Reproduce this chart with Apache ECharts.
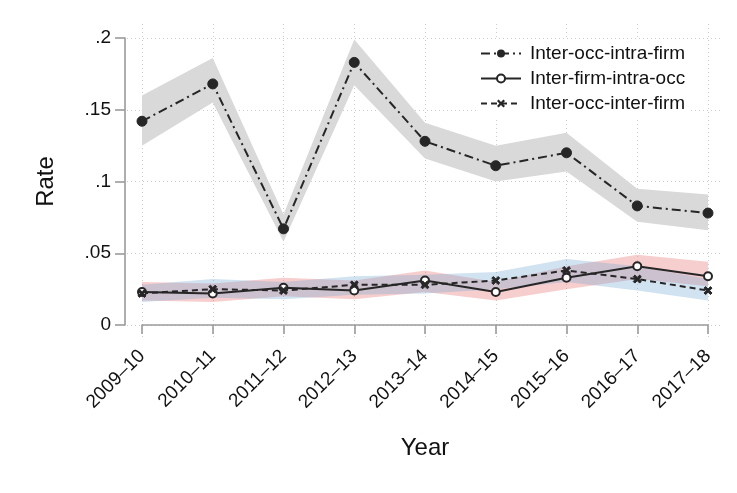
<!DOCTYPE html>
<html>
<head>
<meta charset="utf-8">
<script src="https://cdn.jsdelivr.net/npm/echarts@6/dist/echarts.min.js"></script>
<style>
html,body{margin:0;padding:0;background:#fff;}
#chart{width:737px;height:493px;}
</style>
</head>
<body>
<div id="chart"></div>
<script>
// ---- data ----
const categories = ['2009–10','2010–11','2011–12','2012–13','2013–14','2014–15','2015–16','2016–17','2017–18'];
const yTickValues = [0, 0.05, 0.1, 0.15, 0.2];
const yTickLabels = ['0', '.05', '.1', '.15', '.2'];

const seriesNames = ['Inter-occ-intra-firm', 'Inter-firm-intra-occ', 'Inter-occ-inter-firm'];

const occIntraFirm      = [0.142, 0.168, 0.067, 0.183, 0.128, 0.111, 0.120, 0.083, 0.078];
const occIntraFirmLow   = [0.125, 0.155, 0.058, 0.167, 0.116, 0.100, 0.107, 0.072, 0.066];
const occIntraFirmHigh  = [0.160, 0.186, 0.077, 0.199, 0.141, 0.125, 0.134, 0.095, 0.091];

const firmIntraOcc      = [0.023, 0.022, 0.026, 0.024, 0.031, 0.023, 0.033, 0.041, 0.034];
const firmIntraOccLow   = [0.017, 0.016, 0.020, 0.018, 0.023, 0.017, 0.025, 0.032, 0.027];
const firmIntraOccHigh  = [0.030, 0.029, 0.033, 0.031, 0.038, 0.030, 0.041, 0.049, 0.044];

const occInterFirm      = [0.022, 0.025, 0.024, 0.028, 0.028, 0.031, 0.038, 0.032, 0.024];
const occInterFirmLow   = [0.016, 0.019, 0.018, 0.021, 0.022, 0.025, 0.030, 0.024, 0.017];
const occInterFirmHigh  = [0.028, 0.032, 0.030, 0.034, 0.035, 0.037, 0.046, 0.041, 0.032];

// ---- chart ----
const FONT = 'Liberation Sans, Arial, Helvetica, sans-serif';
const INK = '#262626';
const TXT = '#111111';
const AXIS = '#9a9a9a';
const GRIDC = '#cccccc';

function diff(hi, lo){ return hi.map((v,i)=> +(v - lo[i]).toFixed(4)); }

function band(name, lo, hi, color, z){
  return [
    {name: name+'_lo', type:'line', xAxisIndex:0, yAxisIndex:0, stack:name, data:lo,
     symbol:'none', lineStyle:{opacity:0}, silent:true, z:z},
    {name: name+'_hi', type:'line', xAxisIndex:0, yAxisIndex:0, stack:name, data:diff(hi, lo),
     symbol:'none', lineStyle:{opacity:0}, areaStyle:{color:color, opacity:1}, silent:true, z:z}
  ];
}

const xSymbol = 'path://M2,0 L5,3 L8,0 L10,2 L7,5 L10,8 L8,10 L5,7 L2,10 L0,8 L3,5 L0,2 Z';

const chart = echarts.init(document.getElementById('chart'), null, {renderer:'canvas'});

const option = {
  backgroundColor:'#ffffff',
  animation:false,
  textStyle:{fontFamily:FONT},
  grid:[
    {left:142, width:566, top:38, height:287},           // data grid
    {left:127, right:14, top:38, height:287},             // horizontal gridlines
    {left:142, width:566, top:24, height:315}             // vertical gridlines
  ],
  xAxis:[
    {type:'category', gridIndex:0, data:categories, boundaryGap:false, offset:17,
     axisLine:{show:true, lineStyle:{color:AXIS, width:1.6}},
     axisTick:{show:true, length:9, lineStyle:{color:AXIS, width:1.6}, alignWithLabel:true},
     axisLabel:{rotate:45, margin:11, color:TXT, fontSize:19, fontFamily:FONT, interval:0},
     splitLine:{show:false},
     name:'Year', nameLocation:'middle', nameGap:94,
     nameTextStyle:{fontSize:24, color:TXT, fontFamily:FONT}},
    {type:'value', gridIndex:1, min:0, max:1, show:false},
    {type:'category', gridIndex:2, data:categories, boundaryGap:false,
     axisLine:{show:false}, axisTick:{show:false}, axisLabel:{show:false},
     splitLine:{show:true, lineStyle:{color:GRIDC, type:[1,3], width:1}}}
  ],
  yAxis:[
    {type:'value', gridIndex:0, min:0, max:0.2, interval:0.05, offset:17,
     axisLine:{show:true, lineStyle:{color:AXIS, width:1.6}},
     axisTick:{show:true, length:10, lineStyle:{color:AXIS, width:1.6}},
     axisLabel:{margin:14, color:TXT, fontSize:19, fontFamily:FONT,
       formatter:function(v){ const i = yTickValues.findIndex(t=>Math.abs(t-v)<1e-9); return i>=0 ? yTickLabels[i] : ''; }},
     splitLine:{show:false},
     name:'Rate', nameLocation:'middle', nameGap:67, nameRotate:90,
     nameTextStyle:{fontSize:24, color:TXT, fontFamily:FONT}},
    {type:'value', gridIndex:1, min:0, max:0.2, interval:0.05,
     axisLine:{show:false}, axisTick:{show:false}, axisLabel:{show:false},
     splitLine:{show:true, lineStyle:{color:GRIDC, type:[1,3], width:1}}},
    {type:'value', gridIndex:2, min:0, max:1, show:false, splitLine:{show:false}}
  ],
  legend:{
    data:seriesNames, orient:'vertical', left:476, top:40,
    itemWidth:40, itemHeight:10, itemGap:6,
    backgroundColor:'#ffffff', padding:[4,4,4,4],
    textStyle:{fontSize:19, color:TXT, fontFamily:FONT, padding:[0,0,0,4]}
  },
  series:[
    ...band('bandA', occIntraFirmLow, occIntraFirmHigh, '#d9d9d9', 2),
    ...band('bandB', firmIntraOccLow, firmIntraOccHigh, 'rgba(232,120,120,0.36)', 2),
    ...band('bandC', occInterFirmLow, occInterFirmHigh, 'rgba(120,170,210,0.34)', 2),
    {name:seriesNames[0], type:'line', xAxisIndex:0, yAxisIndex:0, data:occIntraFirm, z:5,
     symbol:'circle', symbolSize:10,
     lineStyle:{color:INK, width:2, type:[9,4,2,4]},
     itemStyle:{color:INK, borderColor:INK}},
    {name:seriesNames[1], type:'line', xAxisIndex:0, yAxisIndex:0, data:firmIntraOcc, z:5,
     symbol:'circle', symbolSize:8,
     lineStyle:{color:INK, width:2, type:'solid'},
     itemStyle:{color:'#ffffff', borderColor:INK, borderWidth:2}},
    {name:seriesNames[2], type:'line', xAxisIndex:0, yAxisIndex:0, data:occInterFirm, z:5,
     symbol:xSymbol, symbolSize:8,
     lineStyle:{color:INK, width:2, type:[6,4]},
     itemStyle:{color:INK, borderColor:INK}}
  ]
};
chart.setOption(option);
</script>
</body>
</html>
